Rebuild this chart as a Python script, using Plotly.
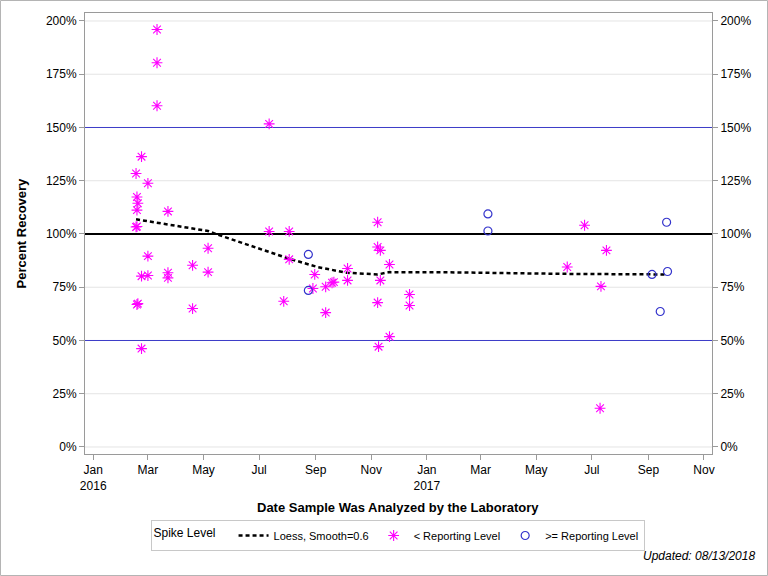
import plotly.graph_objects as go

# ---- data ----
below_dates = [
    "2016-03-11", "2016-03-11", "2016-03-11", "2016-07-12", "2016-02-17", "2016-02-23",
    "2016-03-01", "2016-02-18", "2016-02-19", "2016-02-18", "2016-03-23", "2016-02-17",
    "2016-02-18", "2016-07-12", "2016-08-03", "2016-03-01", "2016-05-06", "2016-02-23",
    "2016-03-01", "2016-03-23", "2016-03-23", "2016-04-19", "2016-05-06", "2016-02-18",
    "2016-02-19", "2016-04-19", "2016-07-28", "2016-02-23", "2016-08-03", "2016-08-31",
    "2016-08-29", "2016-09-12", "2016-09-19", "2016-09-21", "2016-09-12", "2016-10-06",
    "2016-10-06", "2016-11-08", "2016-11-08", "2016-11-11", "2016-11-21", "2016-11-11",
    "2016-11-08", "2016-12-13", "2016-12-13", "2016-11-21", "2016-11-09", "2017-06-23",
    "2017-07-17", "2017-06-04", "2017-07-11", "2017-07-10",
]
below_values = [
    196.0, 180.4, 160.2, 151.7, 128.4, 136.3,
    123.8, 117.4, 114.4, 111.2, 110.6, 103.3,
    103.5, 101.2, 101.2, 89.6, 93.3, 80.2,
    80.5, 81.8, 79.4, 85.3, 82.1, 66.9,
    67.3, 65.0, 68.4, 46.2, 88.1, 81.0,
    74.4, 75.2, 77.1, 77.4, 63.1, 83.8,
    78.2, 105.5, 93.9, 92.3, 85.7, 78.2,
    67.8, 71.6, 66.4, 51.8, 47.1, 104.1,
    92.3, 84.5, 75.4, 18.2,
]

above_dates = [
    "2016-08-24", "2016-08-24", "2017-03-09", "2017-03-09",
    "2017-09-21", "2017-09-05", "2017-09-22", "2017-09-14",
]
above_values = [90.4, 73.5, 109.4, 101.4, 105.5, 81.0, 82.4, 63.6]

loess_dates = [
    "2016-02-17", "2016-05-06", "2016-05-15", "2016-06-20", "2016-08-03", "2016-09-03",
    "2016-10-05", "2016-11-08", "2016-11-21", "2017-01-26", "2017-05-27", "2017-09-21",
]
loess_values = [106.9, 101.4, 99.9, 94.7, 88.4, 84.5, 81.8, 81.0, 82.1, 82.0, 81.3, 81.0]

x_tick_vals = ["2016-01-01", "2016-03-01", "2016-05-01", "2016-07-01", "2016-09-01", "2016-11-01",
               "2017-01-01", "2017-03-01", "2017-05-01", "2017-07-01", "2017-09-01", "2017-11-01"]
x_tick_text = ["Jan<br>2016", "Mar", "May", "Jul", "Sep", "Nov",
               "Jan<br>2017", "Mar", "May", "Jul", "Sep", "Nov"]
y_tick_vals = [0, 25, 50, 75, 100, 125, 150, 175, 200]
y_tick_text = ["0%", "25%", "50%", "75%", "100%", "125%", "150%", "175%", "200%"]

ref_lines = [(150, "#3c3cc8", 1), (100, "#000000", 2), (50, "#3c3cc8", 1)]

# ---- styling ----
NARROW = "Liberation Sans Narrow, Arial Narrow, Liberation Sans, Arial, sans-serif"
SANS = "Liberation Sans, Arial, sans-serif"
FRAME = "#9a9a9a"
GRID = "#e4e4e4"
Y_RANGE = [-3.29, 203.75]

L, R, T, B = 85, 56, 13, 122
W, H = 768, 576
PW, PH = W - L - R, H - T - B


def px_x(p):
    return (p - L) / PW


def px_y(p):
    return (H - B - p) / PH


fig = go.Figure()

fig.add_trace(go.Scatter(
    x=loess_dates, y=loess_values, mode="lines", name="Loess, Smooth=0.6",
    line=dict(color="black", width=2.5, dash="4px,3px"),
))
fig.add_trace(go.Scatter(
    x=below_dates, y=below_values, mode="markers", name="< Reporting Level",
    marker=dict(symbol="asterisk-open", size=9, color="#ff00ff",
                line=dict(color="#ff00ff", width=1.1)),
))
fig.add_trace(go.Scatter(
    x=above_dates, y=above_values, mode="markers", name=">= Reporting Level",
    marker=dict(symbol="circle-open", size=8, color="#3333cc",
                line=dict(color="#3333cc", width=1.2)),
))
# invisible trace so the right axis is drawn
fig.add_trace(go.Scatter(x=loess_dates[:1], y=loess_values[:1], yaxis="y2", mode="markers",
                         marker=dict(opacity=0), showlegend=False, hoverinfo="skip"))

# horizontal gridlines (drawn as shapes so the reference lines can sit on top of them)
for val in y_tick_vals:
    fig.add_shape(type="line", xref="paper", yref="y", x0=0, x1=1, y0=val, y1=val,
                  line=dict(color=GRID, width=1), layer="below")
for val, col, w in ref_lines:
    fig.add_shape(type="line", xref="paper", yref="y", x0=0, x1=1, y0=val, y1=val,
                  line=dict(color=col, width=w), layer="below")

# outer border of image
fig.add_shape(type="rect", xref="paper", yref="paper",
              x0=px_x(0.5), x1=px_x(W - 0.5), y0=px_y(H - 0.5), y1=px_y(0.5),
              line=dict(color="#b4b4b4", width=1))

fig.add_annotation(text="<b>Percent Recovery</b>", xref="paper", yref="paper",
                   x=px_x(21), y=px_y(233.5), xanchor="center", yanchor="middle",
                   textangle=-90, showarrow=False,
                   font=dict(family=NARROW, size=13, color="black"))
fig.add_annotation(text="<b>Date Sample Was Analyzed by the Laboratory</b>", xref="paper", yref="paper",
                   x=px_x(398), y=px_y(508), xanchor="center", yanchor="middle", showarrow=False,
                   font=dict(family=NARROW, size=13, color="black"))
fig.add_annotation(text="<i>Updated: 08/13/2018</i>", xref="paper", yref="paper",
                   x=px_x(757), y=px_y(556), xanchor="right", yanchor="middle", showarrow=False,
                   font=dict(family=SANS, size=12, color="black"))

axis_common = dict(showline=True, linecolor=FRAME, linewidth=1, ticks="outside",
                   ticklen=5, tickcolor=FRAME, zeroline=False, showgrid=False,
                   tickfont=dict(family=NARROW, size=12, color="black"))

fig.update_layout(
    width=W, height=H,
    margin=dict(l=L, r=R, t=T, b=B),
    plot_bgcolor="white", paper_bgcolor="white",
    xaxis=dict(type="date", range=["2015-12-23", "2017-11-09 19:00"],
               tickvals=x_tick_vals, ticktext=x_tick_text,
               mirror=True, **axis_common),
    yaxis=dict(range=Y_RANGE, tickvals=y_tick_vals, ticktext=y_tick_text,
               mirror=True, **axis_common),
    yaxis2=dict(range=Y_RANGE, tickvals=y_tick_vals, ticktext=y_tick_text, overlaying="y",
                side="right", **axis_common),
    legend=dict(orientation="h", xanchor="center", x=px_x(397.5), yanchor="top", y=px_y(520),
                bordercolor="#c8c8c8", borderwidth=1, bgcolor="white",
                font=dict(family=SANS, size=11, color="black"),
                title=dict(text="Spike Level   ", font=dict(family=SANS, size=12, color="black"),
                           side="left"),
                itemwidth=30, tracegroupgap=0),
    showlegend=True,
)

fig.write_html("out.html")
